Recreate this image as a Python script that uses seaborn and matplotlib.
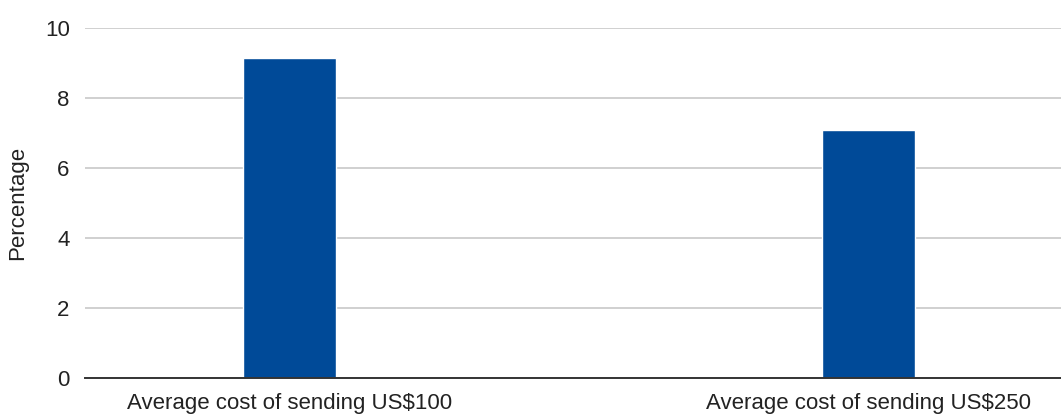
import matplotlib
matplotlib.use("Agg")
import matplotlib.pyplot as plt
import seaborn as sns
import pandas as pd

categories = ["Average cost of sending US$100", "Average cost of sending US$250"]
values = [9.16, 7.08]
y_ticks = [0, 2, 4, 6, 8, 10]

sns.set_theme(style="white")
plt.rcParams["font.family"] = ["Liberation Sans", "DejaVu Sans"]

df = pd.DataFrame({"category": categories, "value": values})

fig = plt.figure(figsize=(10.61, 4.15), dpi=100)
ax = fig.add_axes([0.0801, 0.0899, 0.9199, 0.8419])

sns.barplot(data=df, x="category", y="value", color="#004a98", width=0.16,
            saturation=1, ax=ax, zorder=3)

ax.set_xlim(-0.353, 1.333)
ax.set_ylim(0, 10)
ax.set_yticks(y_ticks)
ax.yaxis.grid(True, color="#c4c4c4", linewidth=1.1, zorder=0)
ax.xaxis.grid(False)
for s in ["top", "right", "left"]:
    ax.spines[s].set_visible(False)
ax.spines["bottom"].set_color("#333333")
ax.spines["bottom"].set_linewidth(1.4)
ax.spines["bottom"].set_zorder(4)

ax.tick_params(axis="both", length=0, labelsize=16, colors="#222222")
ax.tick_params(axis="y", pad=11)
ax.tick_params(axis="x", pad=11)
ax.set_xlabel("")
ax.set_ylabel("Percentage", fontsize=16, color="#222222")
ax.yaxis.set_label_coords(-0.058, 0.50)

fig.savefig("out.png", dpi=100)
